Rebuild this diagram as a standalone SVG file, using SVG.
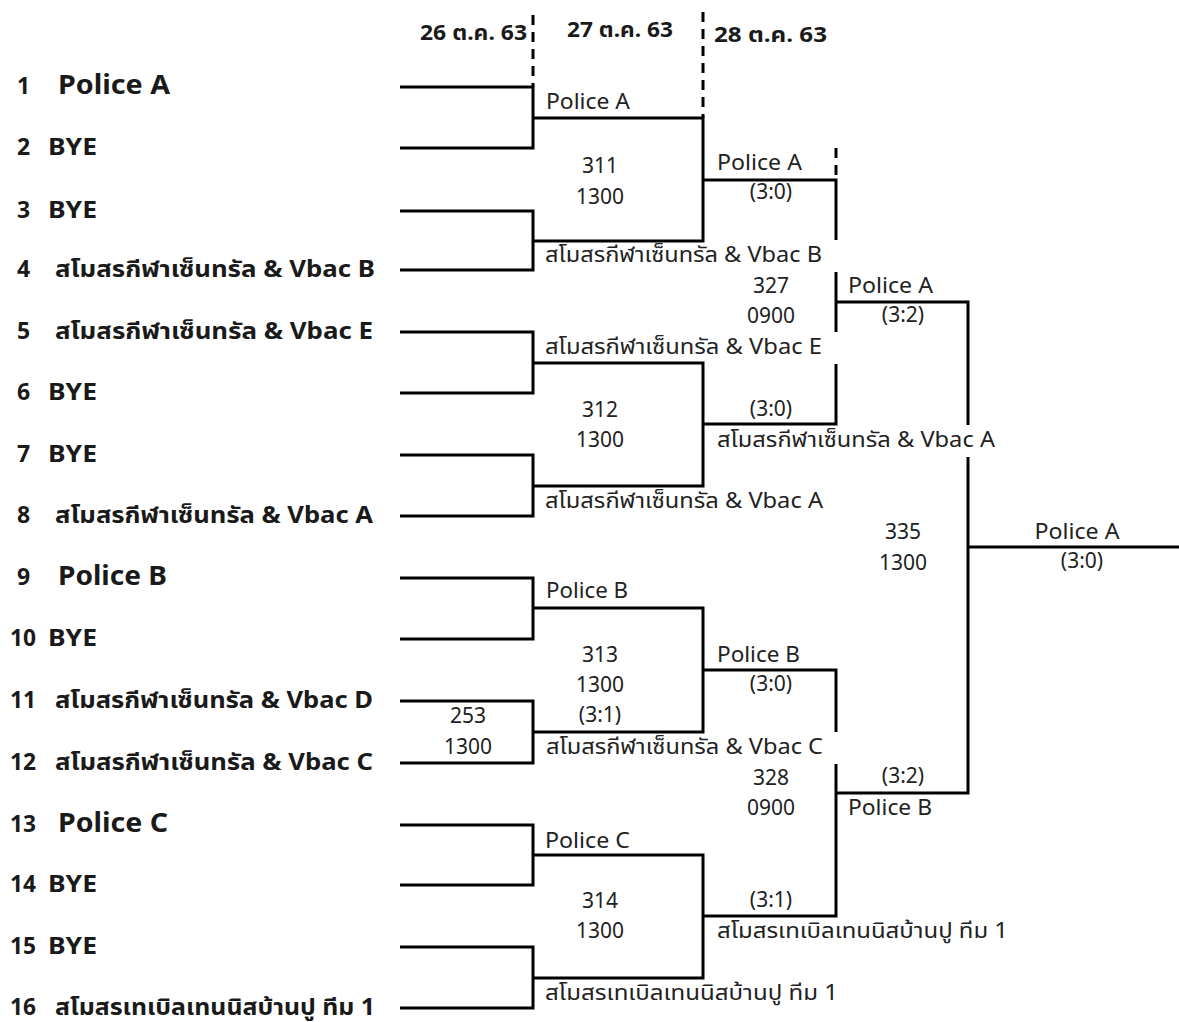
<svg xmlns="http://www.w3.org/2000/svg" width="1179" height="1022" viewBox="0 0 1179 1022">
<style>
text{font-family:"Noto Sans","Noto Sans Thai","Noto Sans Thai UI","Leelawadee UI",Tahoma,"Loma","Garuda","DejaVu Sans",sans-serif;fill:#1a1a1a}
.hdr{font-size:21px;font-weight:bold}
.idx{font-size:23px;font-weight:bold}
.team{font-size:23px;font-weight:bold}
.pol{font-size:26px;font-weight:bold}
.lbl{font-size:21px;font-weight:normal;fill:#222}
.c{text-anchor:middle}
.ln{fill:none;stroke:#000;stroke-width:3}
.dash{fill:none;stroke:#000;stroke-width:3;stroke-dasharray:10 7}
</style>
<rect width="1179" height="1022" fill="#fff"/>

<g id="headers">
<text class="hdr" x="420" y="40" textLength="107" lengthAdjust="spacingAndGlyphs">26 ต.ค. 63</text>
<text class="hdr" x="567" y="37" textLength="106" lengthAdjust="spacingAndGlyphs">27 ต.ค. 63</text>
<text class="hdr" x="714" y="42" textLength="113" lengthAdjust="spacingAndGlyphs">28 ต.ค. 63</text>
</g>

<g id="connectors">
<path class="dash" d="M533 15 V87 M703 12 V118 M836 148 V180"/>
<path class="ln" d="M400 87 H533 V148 H400 M533 118 H703 V241 H533 M400 211 H533 V270 H400 M533 241 H703
M400 332 H533 V393 H400 M533 363 H703 V486 H533 M400 455 H533 V516 H400 M533 486 H703
M400 578 H533 V639 H400 M533 608 H703 V732 H533 M400 701 H533 V763 H400 M533 732 H703
M400 825 H533 V885 H400 M533 855 H703 V978 H533 M400 947 H533 V1008 H400 M533 978 H703
M703 180 H836 V240 M836 272 V332 M836 364 V424 H703
M703 670 H836 V732 M836 764 V916 H703
M836 302 H968 V425 M968 457 V793 H836
M968 547 H1179"/>
</g>

<g id="entry-1"><text class="idx" x="17" y="94" textLength="13" lengthAdjust="spacingAndGlyphs">1</text><text class="pol" x="58" y="94" textLength="112" lengthAdjust="spacingAndGlyphs">Police A</text></g>
<g id="entry-2"><text class="idx" x="17" y="155">2</text><text class="team" x="48" y="155" textLength="49" lengthAdjust="spacingAndGlyphs">BYE</text></g>
<g id="entry-3"><text class="idx" x="17" y="218">3</text><text class="team" x="48" y="218" textLength="49" lengthAdjust="spacingAndGlyphs">BYE</text></g>
<g id="entry-4"><text class="idx" x="17" y="277">4</text><text class="team" x="55" y="277" textLength="320" lengthAdjust="spacingAndGlyphs">สโมสรกีฬาเซ็นทรัล &amp; Vbac B</text></g>
<g id="entry-5"><text class="idx" x="17" y="339">5</text><text class="team" x="55" y="339" textLength="318" lengthAdjust="spacingAndGlyphs">สโมสรกีฬาเซ็นทรัล &amp; Vbac E</text></g>
<g id="entry-6"><text class="idx" x="17" y="400">6</text><text class="team" x="48" y="400" textLength="49" lengthAdjust="spacingAndGlyphs">BYE</text></g>
<g id="entry-7"><text class="idx" x="17" y="462">7</text><text class="team" x="48" y="462" textLength="49" lengthAdjust="spacingAndGlyphs">BYE</text></g>
<g id="entry-8"><text class="idx" x="17" y="523">8</text><text class="team" x="55" y="523" textLength="318" lengthAdjust="spacingAndGlyphs">สโมสรกีฬาเซ็นทรัล &amp; Vbac A</text></g>
<g id="entry-9"><text class="idx" x="17" y="585">9</text><text class="pol" x="58" y="585" textLength="109" lengthAdjust="spacingAndGlyphs">Police B</text></g>
<g id="entry-10"><text class="idx" x="10" y="646" textLength="26" lengthAdjust="spacingAndGlyphs">10</text><text class="team" x="48" y="646" textLength="49" lengthAdjust="spacingAndGlyphs">BYE</text></g>
<g id="entry-11"><text class="idx" x="10" y="708" textLength="26" lengthAdjust="spacingAndGlyphs">11</text><text class="team" x="55" y="708" textLength="318" lengthAdjust="spacingAndGlyphs">สโมสรกีฬาเซ็นทรัล &amp; Vbac D</text></g>
<g id="entry-12"><text class="idx" x="10" y="770" textLength="26" lengthAdjust="spacingAndGlyphs">12</text><text class="team" x="55" y="770" textLength="318" lengthAdjust="spacingAndGlyphs">สโมสรกีฬาเซ็นทรัล &amp; Vbac C</text></g>
<g id="entry-13"><text class="idx" x="10" y="832" textLength="26" lengthAdjust="spacingAndGlyphs">13</text><text class="pol" x="58" y="832" textLength="110" lengthAdjust="spacingAndGlyphs">Police C</text></g>
<g id="entry-14"><text class="idx" x="10" y="892" textLength="26" lengthAdjust="spacingAndGlyphs">14</text><text class="team" x="48" y="892" textLength="49" lengthAdjust="spacingAndGlyphs">BYE</text></g>
<g id="entry-15"><text class="idx" x="10" y="954" textLength="26" lengthAdjust="spacingAndGlyphs">15</text><text class="team" x="48" y="954" textLength="49" lengthAdjust="spacingAndGlyphs">BYE</text></g>
<g id="entry-16"><text class="idx" x="10" y="1015" textLength="26" lengthAdjust="spacingAndGlyphs">16</text><text class="team" x="55" y="1015" textLength="320" lengthAdjust="spacingAndGlyphs">สโมสรเทเบิลเทนนิสบ้านปู ทีม 1</text></g>

<g id="match-311">
<text class="lbl" x="546" y="109" textLength="84" lengthAdjust="spacingAndGlyphs">Police A</text>
<text class="lbl c" x="600" y="173">311</text>
<text class="lbl c" x="600" y="204">1300</text>
<text class="lbl" x="545" y="262" textLength="277" lengthAdjust="spacingAndGlyphs">สโมสรกีฬาเซ็นทรัล &amp; Vbac B</text>
</g>
<g id="match-312">
<text class="lbl" x="545" y="354" textLength="277" lengthAdjust="spacingAndGlyphs">สโมสรกีฬาเซ็นทรัล &amp; Vbac E</text>
<text class="lbl c" x="600" y="417">312</text>
<text class="lbl c" x="600" y="447">1300</text>
<text class="lbl" x="545" y="508" textLength="278" lengthAdjust="spacingAndGlyphs">สโมสรกีฬาเซ็นทรัล &amp; Vbac A</text>
</g>
<g id="match-253">
<text class="lbl c" x="468" y="723">253</text>
<text class="lbl c" x="468" y="754">1300</text>
</g>
<g id="match-313">
<text class="lbl" x="546" y="598" textLength="82" lengthAdjust="spacingAndGlyphs">Police B</text>
<text class="lbl c" x="600" y="662">313</text>
<text class="lbl c" x="600" y="692">1300</text>
<text class="lbl c" x="600" y="722">(3:1)</text>
<text class="lbl" x="546" y="754" textLength="277" lengthAdjust="spacingAndGlyphs">สโมสรกีฬาเซ็นทรัล &amp; Vbac C</text>
</g>
<g id="match-314">
<text class="lbl" x="545" y="848" textLength="85" lengthAdjust="spacingAndGlyphs">Police C</text>
<text class="lbl c" x="600" y="908">314</text>
<text class="lbl c" x="600" y="938">1300</text>
<text class="lbl" x="545" y="1000" textLength="293" lengthAdjust="spacingAndGlyphs">สโมสรเทเบิลเทนนิสบ้านปู ทีม 1</text>
</g>
<g id="match-327">
<text class="lbl" x="717" y="170" textLength="85" lengthAdjust="spacingAndGlyphs">Police A</text>
<text class="lbl c" x="771" y="199">(3:0)</text>
<text class="lbl c" x="771" y="293">327</text>
<text class="lbl c" x="771" y="323">0900</text>
<text class="lbl c" x="771" y="416">(3:0)</text>
<text class="lbl" x="717" y="447" textLength="278" lengthAdjust="spacingAndGlyphs">สโมสรกีฬาเซ็นทรัล &amp; Vbac A</text>
</g>
<g id="match-328">
<text class="lbl" x="717" y="662" textLength="83" lengthAdjust="spacingAndGlyphs">Police B</text>
<text class="lbl c" x="771" y="691">(3:0)</text>
<text class="lbl c" x="771" y="785">328</text>
<text class="lbl c" x="771" y="815">0900</text>
<text class="lbl c" x="771" y="907">(3:1)</text>
<text class="lbl" x="717" y="938" textLength="291" lengthAdjust="spacingAndGlyphs">สโมสรเทเบิลเทนนิสบ้านปู ทีม 1</text>
</g>
<g id="match-335">
<text class="lbl" x="848" y="293" textLength="85" lengthAdjust="spacingAndGlyphs">Police A</text>
<text class="lbl c" x="903" y="322">(3:2)</text>
<text class="lbl c" x="903" y="539">335</text>
<text class="lbl c" x="903" y="570">1300</text>
<text class="lbl c" x="903" y="783">(3:2)</text>
<text class="lbl" x="848" y="815" textLength="84" lengthAdjust="spacingAndGlyphs">Police B</text>
</g>
<g id="final">
<text class="lbl c" x="1077" y="539" textLength="85" lengthAdjust="spacingAndGlyphs">Police A</text>
<text class="lbl c" x="1082" y="568">(3:0)</text>
</g>
</svg>
